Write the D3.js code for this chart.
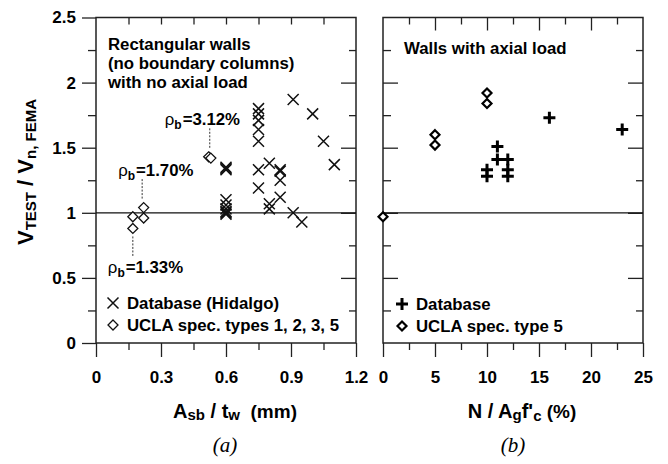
<!DOCTYPE html>
<html>
<head>
<meta charset="utf-8">
<script src="https://cdn.jsdelivr.net/npm/d3@7"></script>
<style>
body { margin: 0; background: #fff; }
text { font-family: "Liberation Sans", Arial, sans-serif; font-weight: bold; fill: #000; }
.tick line { stroke: #222; stroke-width: 1.3; }
.tick text { font-size: 17px; }
</style>
</head>
<body>
<svg width="668" height="464"></svg>
<script>
// tick values
const yMajor = [0, 0.5, 1, 1.5, 2, 2.5];
const yMinor = [0.25, 0.75, 1.25, 1.75, 2.25];
const aMajor = [0, 0.3, 0.6, 0.9, 1.2];
const aMinor = [0.15, 0.45, 0.75, 1.05];
const bMajor = [0, 5, 10, 15, 20, 25];
const bMinor = [2.5, 7.5, 12.5, 17.5, 22.5];

// (a) rectangular walls, no axial load: [Asb/tw, Vtest/Vn]
const hidalgo = [
    [0.6, 1.35], [0.6, 1.34], [0.6, 1.33], [0.6, 1.10], [0.6, 1.06], [0.6, 1.03],
    [0.6, 1.01], [0.6, 1.00], [0.6, 0.99],
    [0.75, 1.80], [0.75, 1.76], [0.75, 1.71], [0.75, 1.64], [0.75, 1.55], [0.75, 1.33], [0.75, 1.19],
    [0.8, 1.38], [0.8, 1.07], [0.8, 1.03],
    [0.85, 1.33], [0.85, 1.32], [0.85, 1.25], [0.85, 1.12],
    [0.91, 1.87], [0.91, 1.00], [0.95, 0.93],
    [1.0, 1.76], [1.05, 1.55], [1.1, 1.37]
];
const uclaA = [
    [0.17, 0.97], [0.17, 0.88], [0.22, 1.04], [0.22, 0.96], [0.52, 1.43], [0.53, 1.42]
];
// rho_b notes: [label, x, y of the specimen, side]
const rhoNotes = [
    ["3.12%", 0.525, 1.43, "up"],
    ["1.70%", 0.213, 1.04, "up"],
    ["1.33%", 0.17, 0.88, "down"]
];
const rhoShift = [-45, -24, -25];

// (b) walls with axial load: [N/Agf'c %, Vtest/Vn]
const database = [
    [16, 1.73], [23, 1.64], [11, 1.51], [11, 1.41], [12, 1.41],
    [12, 1.33], [12, 1.28], [10, 1.33], [10, 1.28]
];
const uclaB = [
    [10, 1.92], [10, 1.84], [5, 1.60], [5, 1.52], [0, 0.97]
];

const svg = d3.select("svg");
const yTop = 17.5, yBot = 343;
const y = d3.scaleLinear().domain([0, 2.5]).range([yBot, yTop]);
const xa = d3.scaleLinear().domain([0, 1.2]).range([96, 356]);
const xb = d3.scaleLinear().domain([0, 25]).range([383, 643]);

const fmt = d => d === 0 ? "0" : d3.format("~g")(d);
const fs = 16.8;

function frame(x, labelY, major, minor, topMinorOnly) {
    const x0 = x.range()[0], x1 = x.range()[1];
    // bottom, outward
    svg.append("g").attr("transform", `translate(0,${yBot})`)
        .call(d3.axisBottom(x).tickValues(major).tickSize(14).tickPadding(14).tickFormat(fmt));
    svg.append("g").attr("transform", `translate(0,${yBot})`)
        .call(d3.axisBottom(x).tickValues(minor).tickSize(7).tickFormat(""));
    // top, inward
    svg.append("g").attr("transform", `translate(0,${yTop})`)
        .call(d3.axisTop(x).tickValues(major.slice(1, -1)).tickSize(topMinorOnly ? -7 : -13).tickFormat(""));
    svg.append("g").attr("transform", `translate(0,${yTop})`)
        .call(d3.axisTop(x).tickValues(minor).tickSize(-7).tickFormat(""));
    // left
    if (labelY) {
        svg.append("g").attr("transform", `translate(${x0},0)`)
            .call(d3.axisLeft(y).tickValues(yMajor).tickSize(14).tickPadding(6).tickFormat(fmt));
        svg.append("g").attr("transform", `translate(${x0},0)`)
            .call(d3.axisLeft(y).tickValues(yMinor).tickSize(8).tickFormat(""));
    } else {
        svg.append("g").attr("transform", `translate(${x0},0)`)
            .call(d3.axisLeft(y).tickValues(yMajor.slice(1, -1)).tickSize(-15).tickFormat(""));
        svg.append("g").attr("transform", `translate(${x0},0)`)
            .call(d3.axisLeft(y).tickValues(yMinor).tickSize(-8).tickFormat(""));
    }
    // right, inward
    svg.append("g").attr("transform", `translate(${x1},0)`)
        .call(d3.axisRight(y).tickValues(yMajor.slice(1, -1)).tickSize(-15).tickFormat(""));
    svg.append("g").attr("transform", `translate(${x1},0)`)
        .call(d3.axisRight(y).tickValues(yMinor).tickSize(-7).tickFormat(""));
    svg.selectAll(".domain").remove();

    svg.append("rect")
        .attr("x", x0).attr("y", yTop)
        .attr("width", x1 - x0).attr("height", yBot - yTop)
        .attr("fill", "none").attr("stroke", "#222").attr("stroke-width", 1.5);
    // reference line at 1
    svg.append("line")
        .attr("x1", x0).attr("x2", x1)
        .attr("y1", y(1)).attr("y2", y(1))
        .attr("stroke", "#111").attr("stroke-width", 1.3);
}

frame(xa, true, aMajor, aMinor, true);
frame(xb, false, bMajor, bMinor, false);

const crossPath = "M-5.5,-5.5L5.5,5.5M-5.5,5.5L5.5,-5.5";
const diamondPath = s => `M0,${-s}L${s},0L0,${s}L${-s},0Z`;
const plusPath = "M-6,0H6M0,-6V6";

// panel (a) marks
svg.append("g").selectAll("path").data(hidalgo).join("path")
    .attr("transform", d => `translate(${xa(d[0])},${y(d[1])})`)
    .attr("d", crossPath).attr("fill", "none")
    .attr("stroke", "#111").attr("stroke-width", 1.5);

svg.append("g").selectAll("path").data(uclaA).join("path")
    .attr("transform", d => `translate(${xa(d[0])},${y(d[1])})`)
    .attr("d", diamondPath(5)).attr("fill", "#fff")
    .attr("stroke", "#111").attr("stroke-width", 1.3);

// rho_b notes
rhoNotes.forEach(([lab, px, py, side], i) => {
    const cx = xa(px), cy = y(py);
    const y1 = side === "up" ? cy - 9 : cy + 8;
    const y2 = side === "up" ? cy - 29 : cy + 29;
    svg.append("line")
        .attr("x1", cx).attr("x2", cx).attr("y1", y1).attr("y2", y2)
        .attr("stroke", "#333").attr("stroke-width", 1).attr("stroke-dasharray", "2,1.5");
    const ty = side === "up" ? cy - 32 : cy + 45;
    const t = svg.append("text").attr("x", cx + rhoShift[i]).attr("y", ty).attr("font-size", fs);
    t.append("tspan").text("ρ").attr("font-weight", "normal");
    t.append("tspan").text("b").attr("font-size", 12).attr("dy", 4);
    t.append("tspan").text("=" + lab).attr("dy", -4).attr("dx", 1);
});

// panel (a) notes and legend
const noteA = ["Rectangular walls", "(no boundary columns)", "with no axial load"];
svg.append("g").selectAll("text").data(noteA).join("text")
    .attr("x", 108).attr("y", (d, i) => 50 + i * 19)
    .attr("font-size", fs).text(d => d);

svg.append("path").attr("transform", "translate(113,303)").attr("d", crossPath)
    .attr("fill", "none").attr("stroke", "#111").attr("stroke-width", 1.5);
svg.append("text").attr("x", 127).attr("y", 309).attr("font-size", fs).text("Database (Hidalgo)");
svg.append("path").attr("transform", "translate(113,325)").attr("d", diamondPath(5))
    .attr("fill", "none").attr("stroke", "#111").attr("stroke-width", 1.3);
svg.append("text").attr("x", 127).attr("y", 331).attr("font-size", fs).text("UCLA spec. types 1, 2, 3, 5");

// panel (b) marks
svg.append("g").selectAll("path").data(database).join("path")
    .attr("transform", d => `translate(${xb(d[0])},${y(d[1])})`)
    .attr("d", plusPath).attr("fill", "none")
    .attr("stroke", "#000").attr("stroke-width", 3);

svg.append("g").selectAll("path").data(uclaB).join("path")
    .attr("transform", d => `translate(${xb(d[0])},${y(d[1])})`)
    .attr("d", diamondPath(4.5)).attr("fill", "#fff")
    .attr("stroke", "#000").attr("stroke-width", 2.2);

svg.append("text").attr("x", 404).attr("y", 54).attr("font-size", fs).text("Walls with axial load");

svg.append("path").attr("transform", "translate(402,304)").attr("d", plusPath)
    .attr("fill", "none").attr("stroke", "#000").attr("stroke-width", 3);
svg.append("text").attr("x", 416).attr("y", 310).attr("font-size", fs).text("Database");
svg.append("path").attr("transform", "translate(402,326)").attr("d", diamondPath(4.5))
    .attr("fill", "none").attr("stroke", "#000").attr("stroke-width", 2.2);
svg.append("text").attr("x", 416).attr("y", 332).attr("font-size", fs).text("UCLA spec. type 5");

// y title
const yt = svg.append("text")
    .attr("transform", "translate(33,172) rotate(-90)")
    .attr("text-anchor", "middle").attr("font-size", 22);
yt.append("tspan").text("V");
yt.append("tspan").text("TEST").attr("font-size", 15).attr("dy", 3);
yt.append("tspan").text(" / ").attr("dy", -3);
yt.append("tspan").text("V");
yt.append("tspan").text("n, FEMA").attr("font-size", 15).attr("dy", 3);

// x titles
const xta = svg.append("text").attr("x", 235).attr("y", 418)
    .attr("text-anchor", "middle").attr("font-size", 20);
xta.append("tspan").text("A");
xta.append("tspan").text("sb").attr("font-size", 15).attr("dy", 2);
xta.append("tspan").text(" / t").attr("dy", -2);
xta.append("tspan").text("w").attr("font-size", 15).attr("dy", 2);
xta.append("tspan").text("\u00a0\u00a0(mm)").attr("dy", -2).attr("font-size", 19);

const xtb = svg.append("text").attr("x", 522).attr("y", 418)
    .attr("text-anchor", "middle").attr("font-size", 20);
xtb.append("tspan").text("N / A");
xtb.append("tspan").text("g").attr("font-size", 15).attr("dy", 2);
xtb.append("tspan").text("f'").attr("dy", -2);
xtb.append("tspan").text("c").attr("font-size", 15).attr("dy", 3);
xtb.append("tspan").text(" (%)").attr("dy", -3).attr("font-size", 19);

// panel letters
svg.selectAll(".plab").data([["(a)", 225], ["(b)", 513]]).join("text")
    .attr("x", d => d[1]).attr("y", 452)
    .attr("text-anchor", "middle")
    .style("font-family", "'Liberation Serif', 'Times New Roman', serif")
    .style("font-weight", "normal").style("font-style", "italic")
    .attr("font-size", 21).text(d => d[0]);
</script>
</body>
</html>
